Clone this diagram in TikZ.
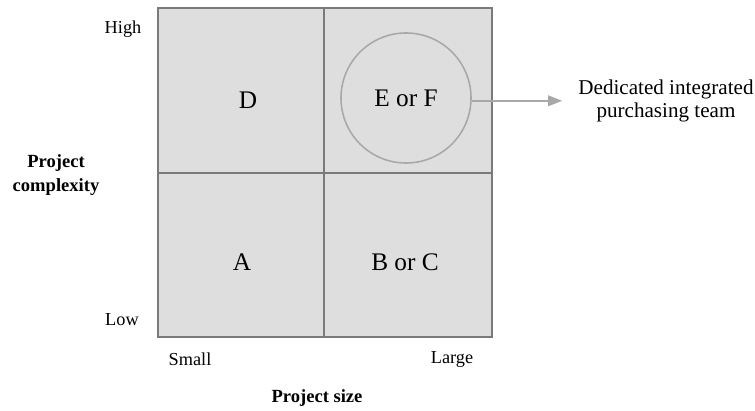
\documentclass[tikz,border=0pt]{standalone}
\usepackage{fontspec}
\setmainfont{Liberation Serif}
\usetikzlibrary{arrows.meta,positioning}

\definecolor{gridgray}{RGB}{122,122,122}
\definecolor{cellgray}{RGB}{222,222,222}
\definecolor{ringgray}{RGB}{168,168,168}

\begin{document}
\begin{tikzpicture}[x=0.025cm, y=-0.025cm,
            cell/.style={draw=gridgray, line width=1.4pt, fill=cellgray, inner sep=0pt,
                         minimum width=4.175cm, minimum height=4.1cm},
            cellname/.style={font=\fontsize{18}{21}\selectfont},
            axisname/.style={font=\fontsize{13}{15}\selectfont},
            axistitle/.style={font=\bfseries\fontsize{13.2}{17}\selectfont, align=center}]
        \useasboundingbox (0,0) rectangle (755,411);
        % the four cells
        \node[cell] (cD) at (241.5,90.5) {};
        \node[cell] (cEF) at (408,90.5) {};
        \node[cell] (cA) at (241.5,255) {};
        \node[cell] (cBC) at (408,255) {};
        \node[cellname] (D) at (248,100) {D};
        \node[cellname] (A) at (242,262) {A};
        \node[cellname] (BC) at (405,262) {B or C};
        \node[cellname, circle, draw=ringgray, line width=1.1pt, minimum size=3.25cm] (EF) at (406,98) {E or F};
        % outcome
        \node[align=center, font=\fontsize{15}{17}\selectfont] (team) at (666,101) {Dedicated integrated\\purchasing team};
        \draw[ringgray, line width=1.4pt, -{Triangle[length=10pt,width=7.5pt]}, shorten >=8pt]
            ([yshift=-2pt]EF.east) -- ([yshift=-2pt]EF.east -| team.west);
        % axes
        \node[axisname] (high) at (123,29) {High};
        \node[axisname] (low) at (122,320) {Low};
        \node[axisname] (small) at (190,359) {Small};
        \node[axisname] (large) at (452,359) {Large};
        \node[axistitle] (complexity) at (56,175) {Project\\complexity};
        \node[axistitle] (size) at (317,398) {Project size};
\end{tikzpicture}
\end{document}
